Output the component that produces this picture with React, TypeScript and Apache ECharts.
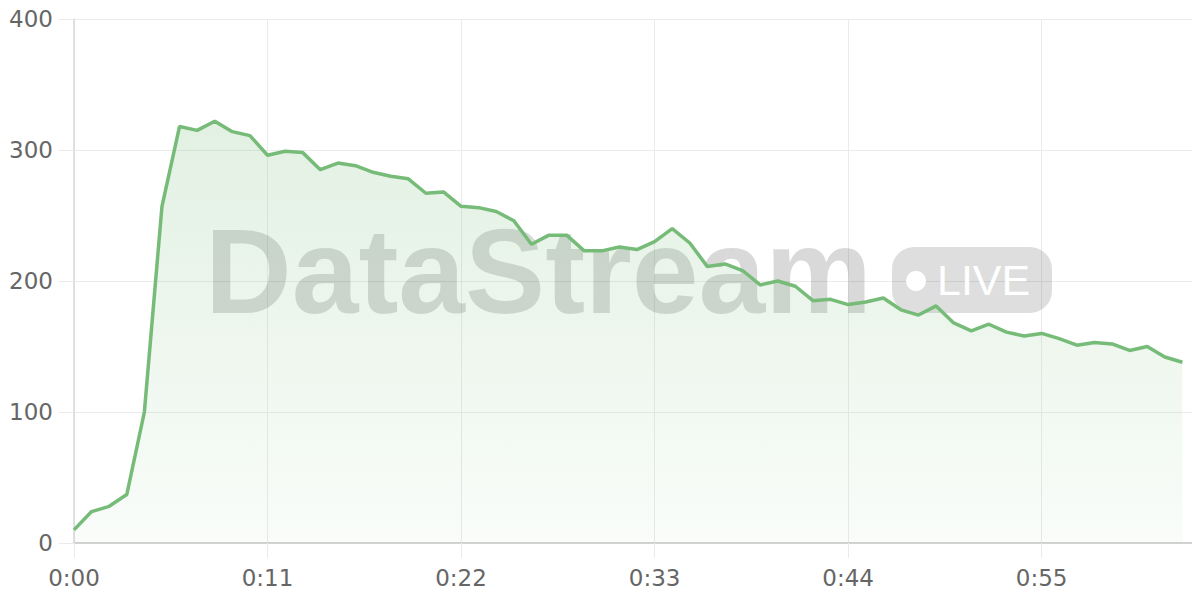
import React, { useEffect, useRef } from "react";
import * as echarts from "echarts";

const values: number[] = [
  10, 24, 28, 37, 100, 257, 318, 315, 322, 314, 311, 296, 299, 298, 285, 290,
  288, 283, 280, 278, 267, 268, 257, 256, 253, 246, 228, 235, 235, 223, 223, 226,
  224, 230, 240, 229, 211, 213, 208, 197, 200, 196, 185, 186, 182, 184, 187, 178,
  174, 181, 168, 162, 167, 161, 158, 160, 156, 151, 153, 152, 147, 150, 142, 138,
];

const categoryCount = 65;
const categories: string[] = Array.from({ length: categoryCount }, (_, i) => {
  const m = Math.floor(i / 60);
  const s = i % 60;
  return `${m}:${s < 10 ? "0" + s : s}`;
});

const yTicks: number[] = [0, 100, 200, 300, 400];

const watermarkText = "DataStream";
const badgeText = "LIVE";

const labelFont = "'DejaVu Sans', sans-serif";

export default function App() {
  const ref = useRef<HTMLDivElement>(null);

  useEffect(() => {
    if (!ref.current) return;
    const chart = echarts.init(ref.current, undefined, { renderer: "svg" });
    const gridColor = "#ebebeb";
    chart.setOption({
      animation: false,
      backgroundColor: "#ffffff",
      grid: { left: 74, right: 0, top: 19, bottom: 57, containLabel: false },
      xAxis: {
        type: "category",
        boundaryGap: false,
        data: categories,
        axisLine: { show: true, lineStyle: { color: "#d2d2d2", width: 2 } },
        axisTick: {
          show: true,
          length: 15,
          interval: 10,
          lineStyle: { color: gridColor, width: 1 },
        },
        axisLabel: {
          interval: 10,
          margin: 23,
          color: "#666666",
          fontSize: 23,
          fontFamily: labelFont,
        },
        splitLine: {
          show: true,
          interval: 10,
          lineStyle: { color: gridColor, width: 1 },
        },
      },
      yAxis: {
        type: "value",
        min: yTicks[0],
        max: yTicks[yTicks.length - 1],
        interval: 100,
        axisLine: { show: true, lineStyle: { color: "#d9d9d9", width: 1.5 } },
        axisTick: { show: true, length: 15, lineStyle: { color: gridColor, width: 1 } },
        axisLabel: {
          margin: 21,
          color: "#666666",
          fontSize: 23,
          fontFamily: labelFont,
        },
        splitLine: { show: true, lineStyle: { color: gridColor, width: 1 } },
      },
      graphic: [
        {
          type: "text",
          z: 1,
          x: 205,
          y: 271,
          style: {
            text: watermarkText,
            font: "bold 120px 'Liberation Sans', Arial, sans-serif",
            fill: "rgba(0,0,0,0.15)",
            align: "left",
            verticalAlign: "middle",
          },
        },
        {
          type: "rect",
          z: 1,
          shape: { x: 892, y: 247, width: 160, height: 66, r: 22 },
          style: { fill: "rgba(0,0,0,0.13)" },
        },
        {
          type: "circle",
          z: 1,
          shape: { cx: 916, cy: 281, r: 10 },
          style: { fill: "#ffffff" },
        },
        {
          type: "text",
          z: 1,
          x: 937,
          y: 280,
          style: {
            text: badgeText,
            font: "43px 'Liberation Sans', Arial, sans-serif",
            fill: "#ffffff",
            align: "left",
            verticalAlign: "middle",
          },
        },
      ],
      series: [
        {
          type: "line",
          data: values,
          z: 3,
          symbol: "none",
          smooth: false,
          lineStyle: { color: "#76bb78", width: 3.5 },
          itemStyle: { color: "#76bb78" },
          areaStyle: {
            color: new echarts.graphic.LinearGradient(0, 0, 0, 1, [
              { offset: 0, color: "rgba(118,187,120,0.30)" },
              { offset: 1, color: "rgba(118,187,120,0.06)" },
            ]),
          },
        },
      ],
    });
    return () => chart.dispose();
  }, []);

  return <div ref={ref} style={{ width: 1200, height: 600, margin: -8 }} />;
}
